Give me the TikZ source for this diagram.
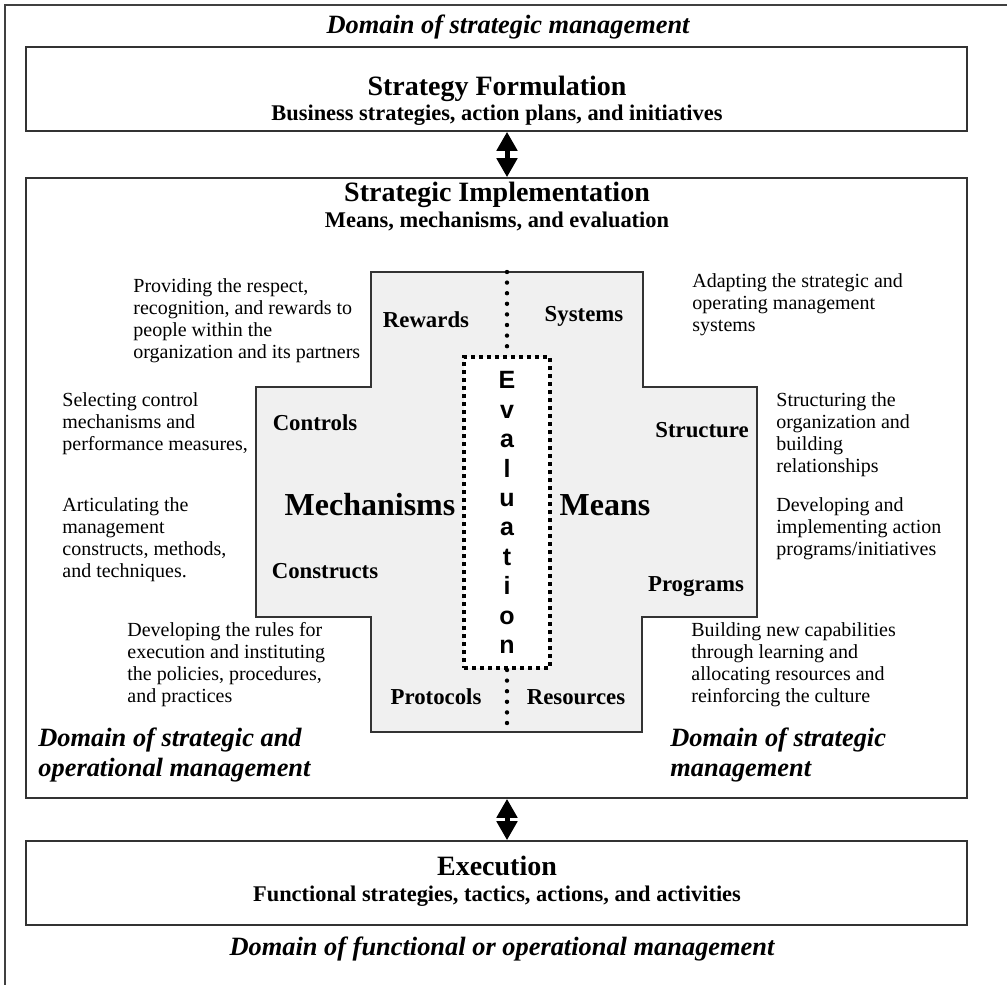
\documentclass[tikz,border=0pt]{standalone}
\usepackage{fontspec}
\setmainfont{Liberation Serif}
\newfontfamily\evalfont{Liberation Sans}
\usetikzlibrary{arrows.meta,positioning}
\def\boxwidth{470.5pt}

\begin{document}
\begin{tikzpicture}[x=0.5pt,y=-0.5pt]
    \tikzstyle{panel}=[draw=black!80, line width=0.8pt, minimum width=\boxwidth, inner sep=0pt]
    \tikzstyle{twoway}=[line width=2.5pt, {Triangle[length=9.5pt,width=10pt]}-{Triangle[length=9.5pt,width=10pt]}]
    \tikzstyle{headline}=[font=\fontsize{14}{16}\selectfont\bfseries, inner sep=0pt]
    \tikzstyle{subline}=[font=\fontsize{11.2}{13}\selectfont\bfseries, inner sep=0pt]
    \tikzstyle{domain text}=[font=\fontsize{13.2}{15}\selectfont\bfseries\itshape, inner sep=0pt]
    \tikzstyle{inner domain}=[domain text, align=left, anchor=west]
    \tikzstyle{desc}=[font=\fontsize{10}{11}\selectfont, align=left, anchor=west, inner sep=0pt]
    \tikzstyle{part}=[font=\fontsize{11.4}{13}\selectfont\bfseries, inner sep=0pt]
    \tikzstyle{pillar}=[font=\fontsize{16}{18}\selectfont\bfseries, inner sep=0pt]
    \tikzstyle{evalbox}=[draw, line width=2pt, dash pattern=on 2.2pt off 1.8pt, fill=white,
        minimum width=43pt, minimum height=155.5pt, inner sep=0pt, align=center,
        font=\fontsize{12.5}{14.7}\selectfont\evalfont\bfseries]
    \tikzstyle{dotline}=[line width=2.2pt, line cap=round, dash pattern=on 0pt off 5.3pt]

    \useasboundingbox (0,0) rectangle (1007,985);
    \draw[black!75, line width=0.8pt] (5,985) -- (5,5) -- (1007,5);

    % The three levels
    \node[domain text] (dom-top) at (508,27) {Domain of strategic management};
    \node[panel, minimum height=42pt] (formulation) at (496.5,89) {};
    \node[headline] (form-title) at (497,89) {Strategy Formulation};
    \node[subline] (form-sub) at (497,115) {Business strategies, action plans, and initiatives};

    \node[panel, minimum height=310pt] (implementation) at (496.5,488) {};
    \node[headline] (impl-title) at (497,195) {Strategic Implementation};
    \node[subline] (impl-sub) at (497,221) {Means, mechanisms, and evaluation};

    \node[panel, minimum height=42pt] (execution) at (496.5,883) {};
    \node[headline] (exec-title) at (497,866) {Execution};
    \node[subline] (exec-sub) at (497,896) {Functional strategies, tactics, actions, and activities};
    \node[domain text] (dom-bottom) at (502,949) {Domain of functional or operational management};

    % The cross
    \filldraw[fill=gray!12, draw=black!80, line width=0.8pt]
        (371,272) -- (643,272) -- (643,387) -- (757,387) -- (757,617) -- (642,617)
        -- (642,732) -- (371,732) -- (371,617) -- (256,617) -- (256,387) -- (371,387) -- cycle;
    \coordinate (cross-top) at (507,272);
    \coordinate (cross-bottom) at (507,732);
    \node[evalbox] (eval) at (507,512.5) {E\\v\\a\\l\\u\\a\\t\\i\\o\\n};
    \draw[dotline] (cross-top) -- (eval.north);
    \draw[dotline] (eval.south) -- (cross-bottom);

    \draw[twoway] (formulation.south -| eval) -- (implementation.north -| eval);
    \draw[twoway] (implementation.south -| eval) -- (execution.north -| eval);

    \node[part] (rewards) at (426,320) {Rewards};
    \node[part] (systems) at (584,316) {Systems};
    \node[part] (controls) at (315,423) {Controls};
    \node[part] (structure) at (702,430) {Structure};
    \node[pillar] (mechanisms) at (370,505) {Mechanisms};
    \node[pillar] (means) at (605,505) {Means};
    \node[part] (constructs) at (325,571) {Constructs};
    \node[part] (programs) at (696,587) {Programs};
    \node[part] (protocols) at (436,697) {Protocols};
    \node[part] (resources) at (576,697) {Resources};

    % Left side notes
    \node[desc] (rewards-note) at (133,321) {Providing the respect,\\recognition, and rewards to\\people within the\\organization and its partners};
    \node[desc] (controls-note) at (62,424) {Selecting control\\mechanisms and\\performance measures,};
    \node[desc] (constructs-note) at (62,540) {Articulating the\\management\\constructs, methods,\\and techniques.};
    \node[desc] (protocols-note) at (127,665) {Developing the rules for\\execution and instituting\\the policies, procedures,\\and practices};
    \node[inner domain] (dom-left) at (38,755) {Domain of strategic and\\operational management};

    % Right side notes
    \node[desc] (systems-note) at (692,305) {Adapting the strategic and\\operating management\\systems};
    \node[desc] (structure-note) at (776,435) {Structuring the\\organization and\\building\\relationships};
    \node[desc] (programs-note) at (776,529) {Developing and\\implementing action\\programs/initiatives};
    \node[desc] (resources-note) at (691,665) {Building new capabilities\\through learning and\\allocating resources and\\reinforcing the culture};
    \node[inner domain] (dom-right) at (670,755) {Domain of strategic\\management};
\end{tikzpicture}
\end{document}
